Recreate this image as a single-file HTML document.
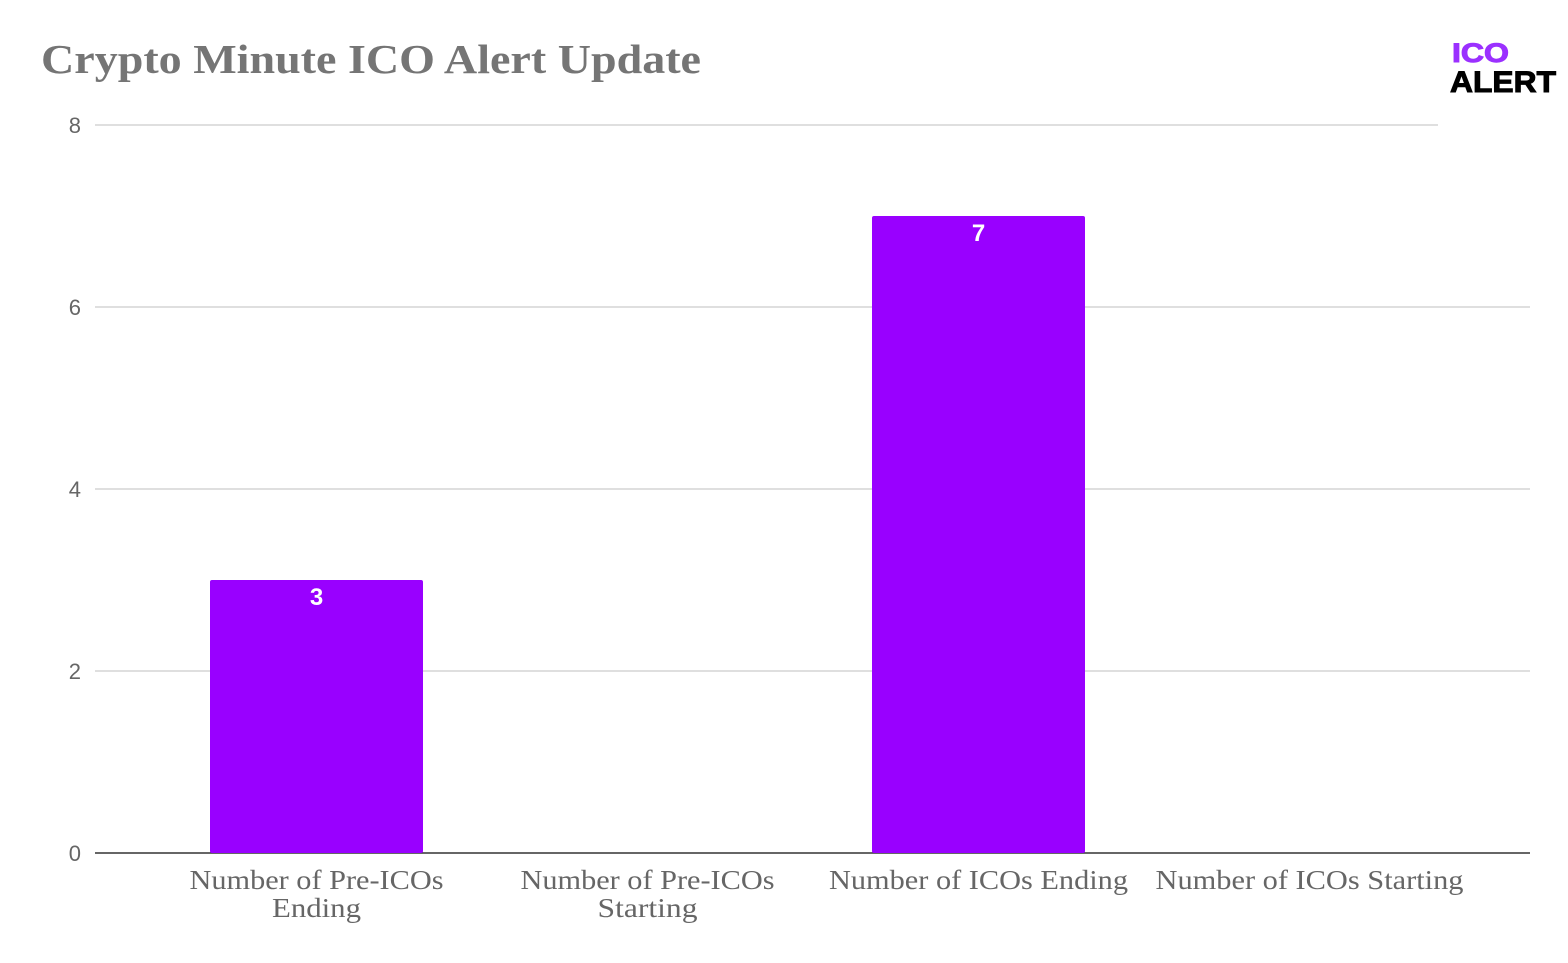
<!DOCTYPE html>
<html><head><meta charset="utf-8"><style>
body{margin:0;background:#fff;width:1568px;height:958px;overflow:hidden}
</style></head><body>
<svg width="1568" height="958" xmlns="http://www.w3.org/2000/svg">
<text x="41" y="73" font-family="Liberation Serif, serif" font-weight="bold" font-size="41" fill="#757575" textLength="660" lengthAdjust="spacingAndGlyphs">Crypto Minute ICO Alert Update</text>
<g>
<text x="1452" y="62" font-family="Liberation Sans, sans-serif" font-weight="bold" font-size="27" fill="#9b30ff" textLength="57" lengthAdjust="spacingAndGlyphs" stroke="#9b30ff" stroke-width="1">ICO</text>
<text x="1450" y="92" font-family="Liberation Sans, sans-serif" font-weight="bold" font-size="30" fill="#000" stroke="#000" stroke-width="1" textLength="106" lengthAdjust="spacingAndGlyphs">ALERT</text>
</g>
<g id="grid"></g><g id="bars"></g><g id="xl"></g>
</svg>
<script>
const categories=[["Number of Pre-ICOs","Ending"],["Number of Pre-ICOs","Starting"],["Number of ICOs Ending"],["Number of ICOs Starting"]];
const values=[3,0,7,0];
const ticks=[0,2,4,6,8];
const NS="http://www.w3.org/2000/svg";
const y0=853,unit=91,bandStart=151,band=331,barW=213;
const labelWidths={"Number of Pre-ICOs":254,"Ending":89,"Starting":100,"Number of ICOs Ending":299,"Number of ICOs Starting":308};
const yS=v=>y0-v*unit;
const xC=i=>bandStart+band*i+band/2;
function mk(t,a,p){const e=document.createElementNS(NS,t);for(const k in a)e.setAttribute(k,a[k]);p.appendChild(e);return e;}
const grid=document.getElementById('grid');
ticks.forEach(t=>{
 const l=mk('line',{x1:95,x2:t===8?1438:1530,y1:yS(t),y2:yS(t),stroke:t===0?'#333':'#ccc','stroke-width':t===0?1.5:1.2},grid);
 
 
 const tx=mk('text',{x:81,y:yS(t)+8,'text-anchor':'end','font-family':'Liberation Sans, sans-serif','font-size':22,fill:'#666'},grid);
 tx.textContent=t;
 
 
});
const bars=document.getElementById('bars');
values.forEach((v,i)=>{
 if(v<=0)return;
 const r=mk('rect',{x:xC(i)-barW/2,y:yS(v),width:barW,height:v*unit,fill:'#9900ff',rx:2},bars);
 
 
 const t=mk('text',{x:xC(i),y:yS(v)+25,'text-anchor':'middle','font-family':'Liberation Sans, sans-serif','font-weight':'bold','font-size':24,fill:'#fff'},bars);
 t.textContent=v;
 
 
});
const xl=document.getElementById('xl');
categories.forEach((lines,i)=>{
 lines.forEach((s,j)=>{
  const t=mk('text',{x:xC(i),y:889+j*28,'text-anchor':'middle','font-family':'Liberation Serif, serif','font-size':27,fill:'#666'},xl);
  t.textContent=s;
  if(labelWidths[s]){t.setAttribute('textLength',String(labelWidths[s]));t.setAttribute('lengthAdjust','spacingAndGlyphs');}
  
  
 });
});
</script>
</body></html>
